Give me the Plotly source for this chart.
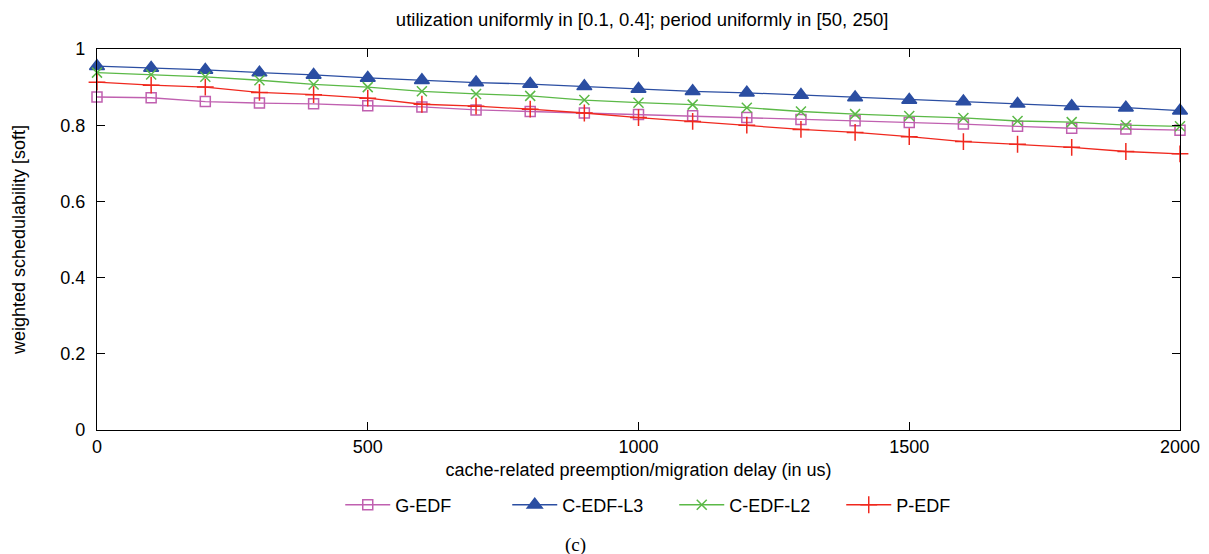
import plotly.graph_objects as go

delay = [0, 100, 200, 300, 400, 500, 600, 700, 800, 900, 1000,
         1100, 1200, 1300, 1400, 1500, 1600, 1700, 1800, 1900, 2000]

g_edf = [0.874, 0.872, 0.862, 0.858, 0.856, 0.851, 0.848, 0.840, 0.836, 0.832, 0.828,
         0.825, 0.820, 0.815, 0.812, 0.807, 0.803, 0.797, 0.792, 0.790, 0.787]
c_edf_l3 = [0.955, 0.950, 0.945, 0.938, 0.932, 0.924, 0.918, 0.912, 0.908, 0.902, 0.895,
            0.889, 0.885, 0.879, 0.873, 0.866, 0.862, 0.856, 0.850, 0.846, 0.838]
c_edf_l2 = [0.938, 0.933, 0.927, 0.918, 0.907, 0.900, 0.889, 0.882, 0.877, 0.866, 0.859,
            0.854, 0.846, 0.836, 0.829, 0.824, 0.819, 0.811, 0.808, 0.800, 0.797]
p_edf = [0.913, 0.905, 0.900, 0.886, 0.880, 0.871, 0.855, 0.850, 0.842, 0.832, 0.820,
         0.810, 0.800, 0.789, 0.781, 0.770, 0.757, 0.750, 0.742, 0.731, 0.725]

x_ticks = [0, 500, 1000, 1500, 2000]
y_ticks = [0, 0.2, 0.4, 0.6, 0.8, 1]

FONT = "Liberation Sans, Arial, sans-serif"
FS = 18

fig = go.Figure()
series = [
    ("G-EDF", g_edf, "#c060b0", "square-open", 10),
    ("C-EDF-L3", c_edf_l3, "#2b4ea2", "triangle-up", 13),
    ("C-EDF-L2", c_edf_l2, "#5bb947", "x-thin-open", 10),
    ("P-EDF", p_edf, "#f0281e", "cross-thin-open", 12),
]
for name, vals, col, sym, sz in series:
    fig.add_trace(go.Scatter(
        x=delay, y=vals, name=name, mode="lines+markers",
        line=dict(color=col, width=1.3),
        marker=dict(symbol=sym, size=sz, color=col, line=dict(color=col, width=1.5)),
        cliponaxis=False,
    ))

axis_common = dict(
    showgrid=False, zeroline=False, showline=True, linecolor="black", linewidth=1.2,
    mirror="allticks", ticks="inside", ticklen=8, tickcolor="black", automargin=False,
    tickfont=dict(family=FONT, size=FS, color="black"),
)
fig.update_xaxes(range=[0, 2000], tickvals=x_ticks, ticktext=[str(v) for v in x_ticks],
                 title=dict(text="cache-related preemption/migration delay (in us)",
                            font=dict(family=FONT, size=FS, color="black"), standoff=7),
                 **axis_common)
fig.update_yaxes(range=[0, 1], tickvals=y_ticks, ticktext=["0", "0.2", "0.4", "0.6", "0.8", "1"],
                 ticklabelstandoff=7,
                 title=dict(text="weighted schedulability [soft]",
                            font=dict(family=FONT, size=FS, color="black"), standoff=29),
                 **axis_common)

# the page adds an 8px body margin, so the figure is 8px smaller and shifted
fig.update_layout(
    width=1201, height=546,
    margin=dict(l=89, r=29, t=41, b=124),
    paper_bgcolor="white", plot_bgcolor="white",
    title=dict(text="utilization uniformly in [0.1, 0.4]; period uniformly in [50, 250]",
               x=0.528, xanchor="center", y=0.978, yanchor="middle",
               font=dict(family=FONT, size=18.5, color="black")),
    legend=dict(orientation="h", x=0.533, xanchor="center", y=-0.197, yanchor="middle",
                font=dict(family=FONT, size=FS, color="black"),
                itemwidth=45, entrywidth=107, traceorder="normal", bgcolor="rgba(0,0,0,0)"),
    annotations=[dict(text="(c)", x=0.4415, y=-0.302, xref="paper", yref="paper",
                      yanchor="middle", showarrow=False,
                      font=dict(family="Liberation Serif, Times New Roman, serif",
                                size=19, color="black"))],
)

fig.write_html("out.html")
